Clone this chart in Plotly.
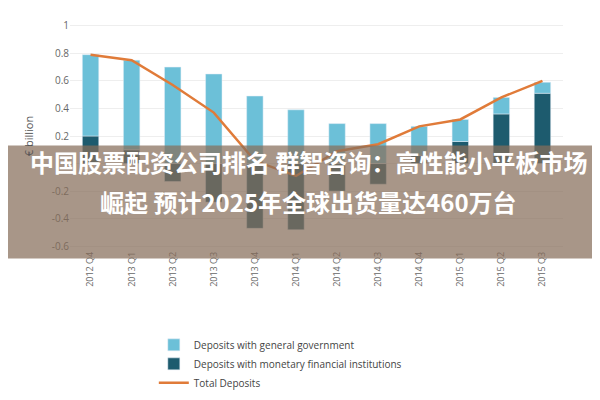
import plotly.graph_objects as go

quarters = ["2012 Q4","2013 Q1","2013 Q2","2013 Q3","2013 Q4","2014 Q1","2014 Q2","2014 Q3","2014 Q4","2015 Q1","2015 Q2","2015 Q3"]
gov = [0.59,0.65,0.70,0.65,0.49,0.39,0.29,0.29,0.21,0.16,0.12,0.08]
mfi = [0.20,0.10,-0.13,-0.28,-0.47,-0.48,-0.20,-0.15,0.06,0.16,0.36,0.51]
total = [0.79,0.75,0.57,0.37,0.02,-0.09,0.09,0.14,0.27,0.32,0.48,0.60]

fig = go.Figure()
fig.add_bar(x=quarters, y=mfi, name="Deposits with monetary financial institutions", marker_color="#1d5b6e", width=0.4, legendrank=2)
fig.add_bar(x=quarters, y=gov, name="Deposits with general government", marker_color="#6cc0d8", width=0.4, legendrank=1)
fig.add_scatter(x=quarters, y=total, name="Total Deposits", mode="lines", line=dict(color="#e07b39", width=2.5), legendrank=3)

fig.update_layout(
    width=600, height=400, barmode="relative", plot_bgcolor="white", paper_bgcolor="white",
    margin=dict(l=62, r=45, t=10, b=150),
    font=dict(family="Open Sans", size=10, color="#666"),
    legend=dict(x=0.17, y=-0.36, xanchor="left", yanchor="top", font=dict(size=10, color="#444"),
                tracegroupgap=0, itemwidth=30),
    xaxis=dict(tickangle=-90, showgrid=False, tickfont=dict(size=9)),
    yaxis=dict(range=[-0.62,1.02], gridcolor="#eee", zeroline=False,
               title=dict(text="€ billion", font=dict(size=11, color="#555"))),
)
fig.update_yaxes(tickvals=[-0.6,-0.4,-0.2,0,0.2,0.4,0.6,0.8,1], ticktext=["-0.6","-0.4","-0.2","0","0.2","0.4","0.6","0.8","1"])
fig.add_shape(type="rect", xref="paper", yref="paper", x0=-0.2, x1=1.2, y0=-0.042, y1=0.458,
              fillcolor="rgba(135,110,90,0.72)", line_width=0)
fig.add_annotation(xref="paper", yref="paper", x=0.483, y=0.30, showarrow=False,
                   text="<b>中国股票配资公司排名 群智咨询：高性能小平板市场</b>",
                   font=dict(family="Noto Sans CJK SC", size=24, color="white"))
fig.add_annotation(xref="paper", yref="paper", x=0.483, y=0.125, showarrow=False,
                   text="<b>崛起 预计2025年全球出货量达460万台</b>",
                   font=dict(family="Noto Sans CJK SC", size=24, color="white"))
fig.write_html("out.html")
